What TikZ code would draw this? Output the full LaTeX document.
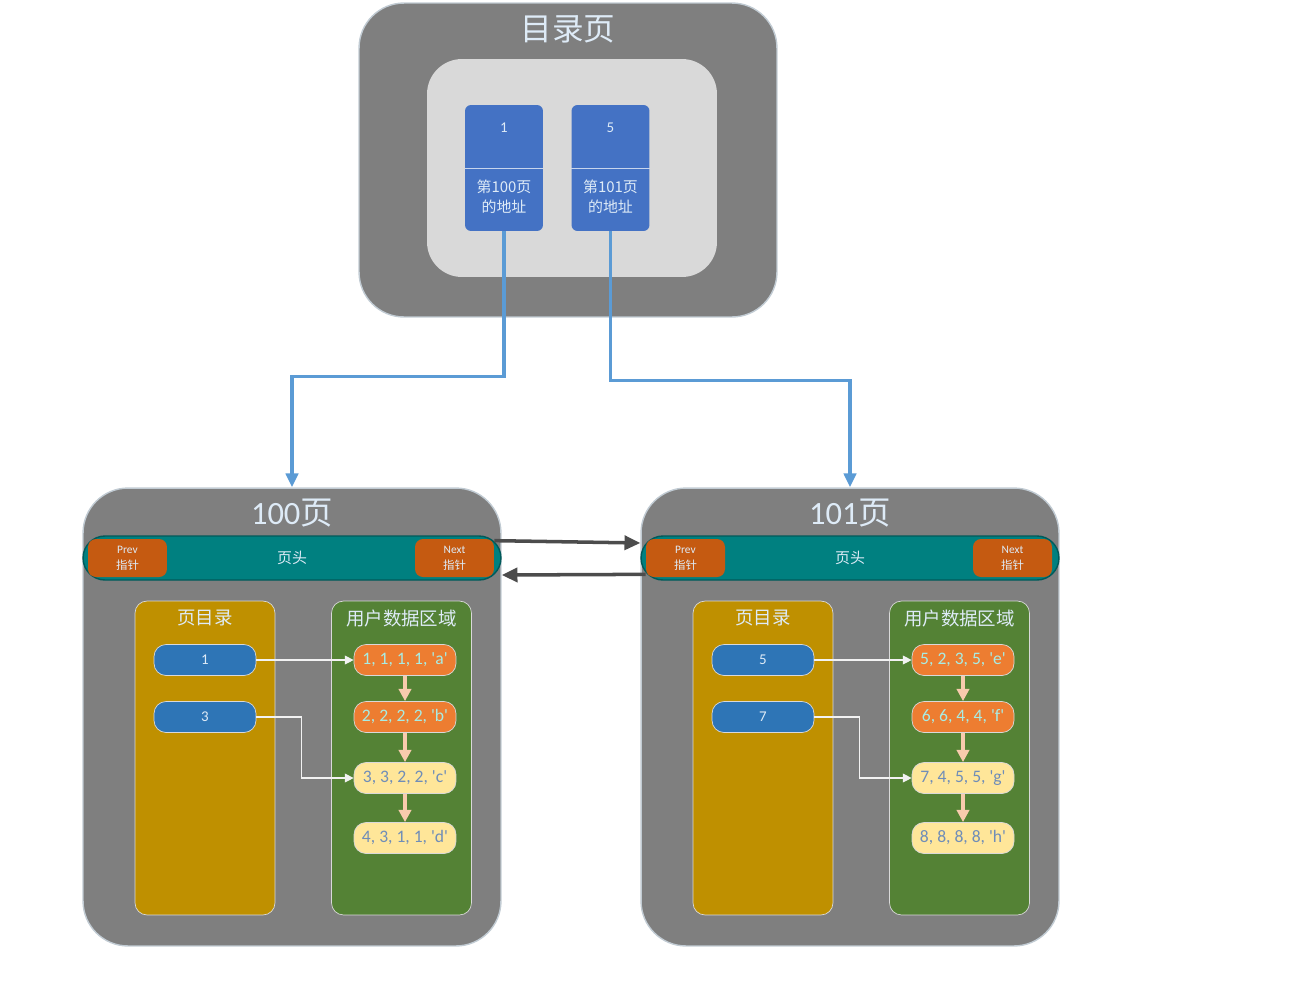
\documentclass[tikz,border=0pt]{standalone}
\usepackage{fontspec}
\setmainfont{Carlito}
\newfontfamily\cjk{Noto Sans CJK SC}
\usetikzlibrary{arrows.meta}
\definecolor{pagegray}{HTML}{7F7F7F}
\definecolor{tocgray}{HTML}{D9D9D9}
\definecolor{cardblue}{HTML}{4472C4}
\definecolor{linkblue}{HTML}{5B9BD5}
\definecolor{headteal}{HTML}{008080}
\definecolor{ptrorange}{HTML}{C55A11}
\definecolor{dirgold}{HTML}{BF9000}
\definecolor{datagreen}{HTML}{548235}
\definecolor{entryblue}{HTML}{2E75B6}
\definecolor{recorange}{HTML}{ED7D31}
\definecolor{recyellow}{HTML}{FFE699}
\definecolor{recarrow}{HTML}{F8CBAD}
\definecolor{titletext}{HTML}{DEEBF7}
\definecolor{cyantext}{HTML}{A8ECE4}
\definecolor{slatetext}{HTML}{6F8DB8}
\begin{document}
\begin{tikzpicture}[x=0.02cm,y=-0.02cm,
  pagebox/.style={draw=titletext!70!pagegray, fill=pagegray, rounded corners=0.9cm, line width=0.8pt},
  tocbox/.style={fill=tocgray, rounded corners=0.7cm},
  card/.style={fill=cardblue, rounded corners=0.12cm, minimum width=1.56cm, minimum height=2.52cm},
  headbar/.style={draw=headteal!70!black, fill=headteal, rounded corners=0.44cm, line width=0.8pt, minimum width=8.36cm, minimum height=0.88cm, text=titletext, font=\cjk\fontsize{8.5}{10}\selectfont},
  ptr/.style={fill=ptrorange, rounded corners=0.16cm, minimum width=1.58cm, minimum height=0.76cm, text=titletext, font=\fontsize{6.5}{9}\selectfont, align=center, inner sep=0pt},
  area/.style={draw=tocgray, rounded corners=0.24cm, minimum width=2.8cm, minimum height=6.28cm},
  entry/.style={draw=tocgray, fill=entryblue, rounded corners=0.24cm, minimum width=2.04cm, minimum height=0.62cm, text=titletext, font=\fontsize{8.5}{10}\selectfont},
  rec/.style={draw=tocgray, rounded corners=0.24cm, minimum width=2.04cm, minimum height=0.62cm, inner sep=1pt, font=\fontsize{10}{12}\selectfont},
  title/.style={text=titletext, font=\cjk},
  link/.style={linkblue, line width=2pt, -{Triangle[length=8pt,width=7pt]}},
  pagearrow/.style={black!70, line width=2pt, -{Triangle[length=9pt,width=8pt]}},
  recarr/.style={recarrow, line width=2pt, -{Triangle[length=7pt,width=7pt]}},
  slot/.style={white!90!gray, line width=0.6pt, -{Triangle[length=5pt,width=5pt]}}]
\useasboundingbox (0,0) rectangle (1312,991);

% directory page
\node[pagebox, minimum width=8.36cm, minimum height=6.28cm] (toc) at (568,160) {};
\node[title, font=\cjk\fontsize{18}{21}\selectfont] at (568,29) {目录页};
\node[tocbox, minimum width=5.8cm, minimum height=4.36cm] (tocin) at (572,168) {};
\foreach \k/\x/\n/\pg in {1/504/1/100, 5/610.5/5/101} {
  \node[card] (c\k) at (\x,168) {};
  \draw[white!70!cardblue] (c\k.west) -- (c\k.east);
  \node[text=titletext, font=\fontsize{8.5}{10}\selectfont] at (\x,128) {\n};
  \node[text=titletext, font=\cjk\fontsize{8.5}{11.3}\selectfont, align=center] at (\x,197) {第\pg 页\\的地址};
}

% data pages
\foreach \p/\dx/\ea/\eb/\ra/\rb/\rc/\rd in {
  100/0/1/3/{1, 1, 1, 1, \textquotesingle a\textquotesingle}/{2, 2, 2, 2, \textquotesingle b\textquotesingle}/{3, 3, 2, 2, \textquotesingle c\textquotesingle}/{4, 3, 1, 1, \textquotesingle d\textquotesingle},
  101/558/5/7/{5, 2, 3, 5, \textquotesingle e\textquotesingle}/{6, 6, 4, 4, \textquotesingle f\textquotesingle}/{7, 4, 5, 5, \textquotesingle g\textquotesingle}/{8, 8, 8, 8, \textquotesingle h\textquotesingle}} {
  \begin{scope}[xshift={\dx*0.02cm}]
    \node[pagebox, minimum width=8.36cm, minimum height=9.16cm] (pg\p) at (292,717) {};
    \node[title, font=\fontsize{18.5}{21}\selectfont] at (292,513) {\p{\cjk 页}};
    \node[headbar] (hd\p) at (292,558) {页头};
    \node[ptr] (pv\p) at (127.5,558) {Prev\\{\cjk 指针}};
    \node[ptr] (nx\p) at (454.5,558) {Next\\{\cjk 指针}};
    \node[area, fill=dirgold] (dir\p) at (205,758) {};
    \node[title, font=\cjk\fontsize{10.5}{12}\selectfont] at (205,618) {页目录};
    \node[area, fill=datagreen] (dat\p) at (401.5,758) {};
    \node[title, font=\cjk\fontsize{10.5}{12}\selectfont] at (401.5,618) {用户数据区域};
    \node[entry] (ea\p) at (205,660) {\ea};
    \node[entry] (eb\p) at (205,717) {\eb};
    \node[rec, fill=recorange, text=cyantext] (ra\p) at (405,660) {\ra};
    \node[rec, fill=recorange, text=cyantext] (rb\p) at (405,717) {\rb};
    \node[rec, fill=recyellow, text=slatetext] (rc\p) at (405,778) {\rc};
    \node[rec, fill=recyellow, text=slatetext] (rd\p) at (405,838) {\rd};
    \draw[recarr] (ra\p) -- (rb\p);
    \draw[recarr] (rb\p) -- (rc\p);
    \draw[recarr] (rc\p) -- (rd\p);
    \draw[slot] (ea\p) -- (ra\p);
    \draw[slot] (eb\p.east) -- ++(45,0) |- (rc\p.west);
  \end{scope}
}

% links from directory to pages
\draw[link] (c1.south) -- ++(0,145) -| (pg100.north);
\draw[link] (c5.south) -- ++(0,149) -| (pg101.north);

% prev / next pointers
\draw[pagearrow] ([yshift=-0.04cm]nx100.north east) -- ([yshift=0.3cm]hd101.west);
\draw[pagearrow] ([yshift=0.06cm]pv101.south west) -- ([yshift=-0.34cm]hd100.east);
\end{tikzpicture}
\end{document}
